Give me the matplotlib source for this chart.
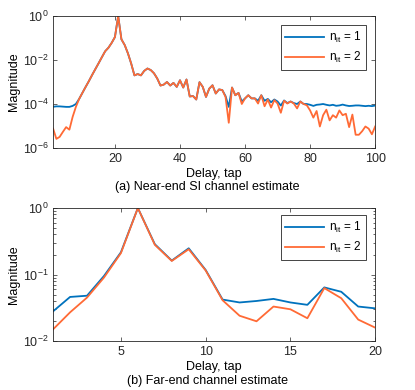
import matplotlib.pyplot as plt
import numpy as np

plt.rcParams['font.family'] = ['Liberation Sans', 'DejaVu Sans']
plt.rcParams['mathtext.fontset'] = 'custom'
plt.rcParams['mathtext.rm'] = 'Liberation Sans'
plt.rcParams['mathtext.it'] = 'Liberation Sans'
plt.rcParams['font.size'] = 9

# (a) near-end SI channel, taps 1..100
taps_a = np.arange(1, 101)
si_it1 = [
    7.5e-5, 7.8e-5, 7.8e-5, 7.6e-5, 7.4e-5, 7.4e-5, 8.2e-5, 1.0e-4, 1.7e-4, 3.2e-4,
    6.0e-4, 1.1e-3, 2.1e-3, 3.9e-3, 7.2e-3, 1.35e-2, 2.5e-2, 3.6e-2, 6.0e-2, 1.1e-1,
    1.0e0, 8.7e-2, 4.8e-2, 2.0e-2, 6.9e-3, 2.0e-3, 2.3e-3, 2.0e-3, 3.2e-3, 4.1e-3,
    3.5e-3, 2.5e-3, 1.45e-3, 6.9e-4, 7.6e-4, 1.0e-3, 6.9e-4, 9.1e-4, 6.0e-4, 1.2e-3,
    5.6e-4, 1.3e-3, 2.2e-4, 2.3e-4, 1.6e-4, 9.8e-4, 6.0e-4, 2.1e-4, 5.0e-4, 7.1e-4,
    3.0e-4, 4.6e-4, 4.3e-4, 2.3e-4, 7.4e-5, 5.6e-4, 2.5e-4, 3.2e-4, 1.3e-4, 1.8e-4,
    2.5e-4, 1.8e-4, 1.8e-4, 1.4e-4, 2.5e-4, 1.4e-4, 1.7e-4, 1.2e-4, 1.6e-4, 1.3e-4,
    8.5e-5, 1.45e-4, 1.1e-4, 1.3e-4, 1.1e-4, 1.0e-4, 1.3e-4, 1.0e-4, 1.0e-4, 9.2e-5,
    8.2e-5, 9.2e-5, 9.5e-5, 1.0e-4, 9.2e-5, 8.6e-5, 9.2e-5, 8.3e-5, 8.6e-5, 9.4e-5,
    8.6e-5, 8.1e-5, 8.3e-5, 8.6e-5, 8.6e-5, 8.3e-5, 8.0e-5, 8.3e-5, 8.0e-5, 8.5e-5,
]
si_it2 = [
    7.6e-6, 2.6e-6, 3.2e-6, 5.4e-6, 8.9e-6, 6.8e-6, 2.6e-5, 7.4e-5, 1.7e-4, 3.2e-4,
    6.0e-4, 1.1e-3, 2.1e-3, 3.9e-3, 7.2e-3, 1.35e-2, 2.5e-2, 3.6e-2, 6.0e-2, 1.1e-1,
    1.0e0, 8.7e-2, 4.8e-2, 2.0e-2, 6.9e-3, 2.0e-3, 2.3e-3, 2.0e-3, 3.2e-3, 4.1e-3,
    3.5e-3, 2.5e-3, 1.45e-3, 6.9e-4, 7.6e-4, 1.0e-3, 6.9e-4, 9.1e-4, 6.0e-4, 1.2e-3,
    5.6e-4, 1.3e-3, 2.2e-4, 2.3e-4, 1.6e-4, 9.8e-4, 6.0e-4, 2.1e-4, 5.0e-4, 7.1e-4,
    3.0e-4, 4.6e-4, 4.3e-4, 2.1e-4, 1.4e-5, 5.6e-4, 2.5e-4, 3.2e-4, 1.0e-4, 1.8e-4,
    2.5e-4, 1.8e-4, 1.8e-4, 1.05e-4, 2.5e-4, 7.9e-5, 1.6e-4, 6.9e-5, 1.5e-4, 1.05e-4,
    4.0e-5, 1.4e-4, 1.05e-4, 1.3e-4, 1.05e-4, 6.3e-5, 1.3e-4, 1.0e-4, 8.7e-5, 5.1e-5,
    2.4e-5, 4.8e-5, 9.5e-6, 3.1e-5, 5.5e-5, 1.8e-5, 3.1e-5, 2.4e-5, 5.1e-5, 3.1e-5,
    3.6e-5, 8.9e-6, 3.3e-5, 4.0e-6, 4.0e-6, 5.8e-6, 9.5e-6, 7.6e-6, 4.2e-6, 9.5e-6,
]

# (b) far-end channel, taps 1..20
taps_b = np.arange(1, 21)
fe_it1 = [0.028, 0.046, 0.048, 0.095, 0.216, 1.0, 0.286, 0.162, 0.248, 0.117,
          0.042, 0.038, 0.040, 0.043, 0.038, 0.035, 0.064, 0.055, 0.033, 0.031]
fe_it2 = [0.015, 0.027, 0.045, 0.090, 0.210, 1.0, 0.280, 0.160, 0.240, 0.115,
          0.041, 0.024, 0.0198, 0.033, 0.030, 0.022, 0.0625, 0.044, 0.021, 0.0159]

blue = '#0072BD'
orange = '#FF6A35'

fig = plt.figure(figsize=(4.15, 3.9), dpi=100)
ax1 = fig.add_axes([0.128, 0.6205, 0.776, 0.3385])
ax2 = fig.add_axes([0.128, 0.1256, 0.776, 0.341])

ax1.semilogy(taps_a, si_it1, color=blue, lw=1.3, label='$n_{it}$ = 1')
ax1.semilogy(taps_a, si_it2, color=orange, lw=1.3, label='$n_{it}$ = 2')
ax1.set_xlim(1, 100)
ax1.set_ylim(1e-6, 1)
ax1.set_xticks([20, 40, 60, 80, 100])
ax1.set_yticks([1e-6, 1e-4, 1e-2, 1])
ax1.set_yticklabels(['$10^{-6}$', '$10^{-4}$', '$10^{-2}$', '$10^{0}$'])
ax1.set_xlabel('Delay, tap', labelpad=2)
ax1.set_ylabel('Magnitude', labelpad=2)
fig.text(0.5, 0.52, '(a) Near-end SI channel estimate', ha='center', va='center', fontsize=9)

ax2.semilogy(taps_b, fe_it1, color=blue, lw=1.3, label='$n_{it}$ = 1')
ax2.semilogy(taps_b, fe_it2, color=orange, lw=1.3, label='$n_{it}$ = 2')
ax2.set_xlim(1, 20)
ax2.set_ylim(1e-2, 1)
ax2.set_xticks([5, 10, 15, 20])
ax2.set_yticks([1e-2, 1e-1, 1])
ax2.set_yticklabels(['$10^{-2}$', '$10^{-1}$', '$10^{0}$'])
ax2.set_xlabel('Delay, tap', labelpad=2)
ax2.set_ylabel('Magnitude', labelpad=2)
fig.text(0.5, 0.023, '(b) Far-end channel estimate', ha='center', va='center', fontsize=9)

anchors = [(0.972, 0.932), (0.972, 0.947)]
for ax, anc in zip((ax1, ax2), anchors):
    for s in ax.spines.values():
        s.set_color('#262626')
        s.set_linewidth(0.6)
    ax.tick_params(which='both', direction='in', top=True, right=True,
                   color='#262626', labelcolor='#262626', width=0.5)
    ax.tick_params(which='major', length=3)
    ax.tick_params(which='minor', length=1.8)
    leg = ax.legend(loc='upper right', fancybox=False, framealpha=1,
                    edgecolor='#262626', handlelength=3.3, borderpad=0.4,
                    labelspacing=0.45, handletextpad=0.4, borderaxespad=0,
                    fontsize=8.5, bbox_to_anchor=anc)
    leg.get_frame().set_linewidth(0.6)

fig.savefig('out.png', dpi=100)
